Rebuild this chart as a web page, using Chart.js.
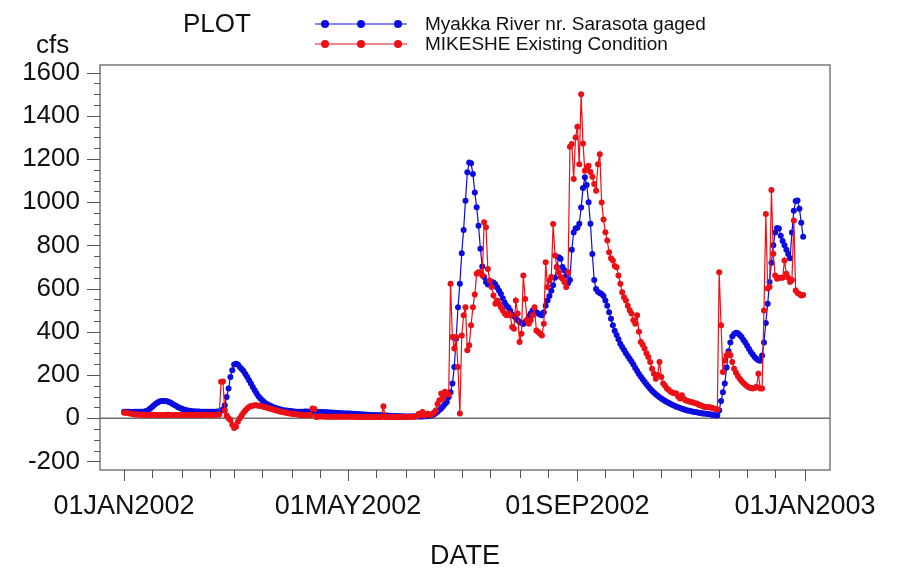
<!DOCTYPE html>
<html>
<head>
<meta charset="utf-8">
<title>PLOT</title>
<script src="https://cdn.jsdelivr.net/npm/chart.js@4.4.0/dist/chart.umd.min.js"></script>
<style>
  html, body { margin: 0; padding: 0; background: #fff; }
  #wrap { width: 907px; height: 569px; }
</style>
</head>
<body>
<div id="wrap"><canvas id="plot" width="907" height="569"></canvas></div>
<script>
const FONT = "'Liberation Sans', Arial, sans-serif";
const BLUE = 'rgb(12,12,225)';
const RED = 'rgb(235,16,22)';

// daily flow in cfs, one value per day from 01JAN2002 (day 0) to 31DEC2002 (day 364)
const gaged = [
  30,30,30,30,29,29,30,30,30,30,   // d0
  30,31,33,38,45,52,60,67,73,77,
  79,80,80,78,75,71,66,61,56,51,   // d20
  47,43,40,38,36,34,32,32,31,31,
  31,30,30,30,30,30,30,30,30,30,   // d40
  31,31,33,40,60,98,137,191,222,249,
  252,248,237,228,218,205,191,175,160,144,   // d60
  129,115,102,92,83,75,68,63,59,55,
  51,48,45,42,40,38,36,35,34,33,   // d80
  32,31,30,30,30,30,30,31,31,30,
  30,30,30,29,29,29,28,28,27,27,   // d100
  26,26,25,25,24,24,23,23,22,22,
  21,21,20,20,19,19,18,18,17,17,   // d120
  16,16,15,15,15,14,14,13,13,12,
  12,12,11,11,10,10,10,9,9,9,      // d140
  8,8,8,8,8,8,8,8,8,8,
  8,9,9,10,11,13,17,23,30,38,      // d160
  45,55,65,75,98,120,160,237,368,514,
  622,764,871,1007,1138,1184,1180,1130,1045,976,   // d180
  891,784,702,653,630,619,622,630,628,620,
  605,590,575,555,535,520,512,497,480,472,   // d200
  462,453,445,440,436,445,455,472,485,498,
  494,490,485,480,476,490,520,545,565,590,   // d220
  615,650,700,745,738,700,685,660,625,640,
  780,860,878,882,900,975,1065,1115,1080,1000,   // d240
  900,760,640,598,585,580,575,565,545,520,
  490,460,430,405,385,365,345,330,315,300,   // d260
  288,275,262,248,232,218,205,192,180,168,
  157,146,136,127,119,111,104,97,91,85,   // d280
  80,75,70,65,61,57,53,50,47,44,
  41,38,36,34,32,30,28,27,25,24,   // d300
  22,21,20,19,18,16,15,13,12,35,
  80,120,160,235,310,350,378,390,395,393,   // d320
  385,376,362,350,335,320,306,295,283,275,
  268,266,290,350,440,530,630,720,800,860,   // d340
  880,878,845,820,800,780,760,740,860,960,
  1005,1008,970,905,840   // d360
];

const mikeshe = [
  25,25,24,22,20,18,17,17,16,16,   // d0
  16,16,15,15,15,16,16,15,15,15,
  15,15,15,16,16,15,15,15,15,15,   // d20
  15,15,15,15,16,16,15,15,15,15,
  15,15,15,16,16,16,15,15,15,16,   // d40
  16,16,168,170,35,12,0,-9,-30,-46,
  -40,-17,0,12,25,35,45,52,56,58,   // d60
  60,60,58,56,55,52,50,47,45,42,
  40,37,35,32,30,28,26,25,23,22,   // d80
  20,19,18,17,16,15,15,14,14,14,
  15,45,42,5,8,8,8,8,7,7,   // d100
  7,7,7,7,6,6,6,6,6,6,
  6,6,6,6,6,5,5,5,5,5,   // d120
  5,5,5,5,5,5,5,5,5,55,
  5,5,5,5,5,5,5,5,5,5,   // d140
  5,5,5,6,6,7,8,10,20,15,
  28,12,18,20,15,18,25,35,66,83,   // d160
  114,90,122,110,110,622,376,322,376,237,
  22,383,476,514,314,337,430,514,573,668,   // d180
  676,676,660,907,884,691,637,607,568,530,
  545,530,514,499,484,476,484,476,422,414,   // d200
  545,484,353,391,660,552,453,437,453,476,
  514,406,399,391,383,437,722,607,637,653,   // d220
  899,753,699,676,653,645,630,607,676,1256,
  1269,1107,1299,1349,1176,1500,1272,1145,1161,1168,   // d240
  1140,1118,1084,1053,1176,1222,999,920,861,822,
  768,740,730,705,699,660,622,583,560,545,   // d260
  520,500,484,453,437,476,400,353,340,322,
  300,283,260,229,206,183,200,260,190,160,   // d280
  150,137,130,122,118,115,114,100,91,106,
  90,83,80,77,75,72,69,68,62,60,   // d300
  56,52,52,50,50,48,45,42,40,676,
  430,214,268,290,299,291,260,229,210,195,   // d320
  183,172,163,155,148,142,140,137,140,145,
  206,137,137,499,945,600,607,1056,761,660,   // d340
  645,650,650,650,730,668,650,630,640,915,
  591,580,575,568,570   // d360
];

const seriesNames = ['Myakka River nr. Sarasota gaged', 'MIKESHE Existing Condition'];
// day of year on which each month of 2002 starts, plus 01JAN2003
const monthStarts = [0, 31, 59, 90, 120, 151, 181, 212, 243, 273, 304, 334, 365];
const labelDays = [0, 120, 243, 365];
const tickLabels = ['01JAN2002', '01MAY2002', '01SEP2002', '01JAN2003'];
const yMajor = [-200, 0, 200, 400, 600, 800, 1000, 1200, 1400, 1600];

// x tick marks on the 1st and 16th of each month
const tickDays = [];
monthStarts.forEach((d, i) => {
  tickDays.push(d);
  if (i < monthStarts.length - 1) tickDays.push(d + 15);
});
const yTickVals = [];
for (let v = yMajor[0]; v <= yMajor[yMajor.length - 1]; v += 50) yTickVals.push(v);

const toPoints = arr => arr.map((v, i) => ({x: i, y: v}));

const decor = {
  id: 'decor',
  beforeDatasetsDraw(chart) {
    const {ctx, chartArea: a, scales: {y}} = chart;
    const y0 = y.getPixelForValue(0);
    ctx.save();
    ctx.strokeStyle = '#6f6f6f';
    ctx.lineWidth = 1.5;
    ctx.beginPath();
    ctx.moveTo(a.left, y0);
    ctx.lineTo(a.right, y0);
    ctx.stroke();
    ctx.restore();
  },
  afterDraw(chart) {
    const {ctx, chartArea: a, scales: {x, y}} = chart;
    ctx.save();
    // frame
    ctx.strokeStyle = '#7a7a7a';
    ctx.lineWidth = 1.5;
    ctx.strokeRect(a.left, a.top, a.right - a.left, a.bottom - a.top);

    // tick marks
    ctx.lineWidth = 1;
    ctx.strokeStyle = '#555';
    ctx.beginPath();
    y.ticks.forEach(t => {
      const py = Math.round(y.getPixelForValue(t.value)) + 0.5;
      const len = yMajor.includes(t.value) ? 13 : 6;
      ctx.moveTo(a.left - len, py);
      ctx.lineTo(a.left, py);
    });
    x.ticks.forEach(t => {
      const px = Math.round(x.getPixelForValue(t.value)) + 0.5;
      const len = labelDays.includes(t.value) ? 11 : 8;
      ctx.moveTo(px, a.bottom);
      ctx.lineTo(px, a.bottom + len);
    });
    ctx.stroke();

    // titles
    ctx.fillStyle = '#111';
    ctx.textBaseline = 'alphabetic';
    ctx.textAlign = 'left';
    ctx.font = '26px ' + FONT;
    ctx.fillText('PLOT', 183, 32);
    ctx.font = '26px ' + FONT;
    ctx.fillText('cfs', 36, 53);
    ctx.textAlign = 'center';
    ctx.font = '27px ' + FONT;
    ctx.fillText('DATE', (a.left + a.right) / 2, 564);

    // legend
    const colors = [BLUE, RED];
    seriesNames.forEach((name, i) => {
      const ly = 24 + i * 20;
      ctx.strokeStyle = colors[i];
      ctx.lineWidth = 1;
      ctx.beginPath();
      ctx.moveTo(315, ly);
      ctx.lineTo(407, ly);
      ctx.stroke();
      ctx.fillStyle = colors[i];
      [325, 361, 398].forEach(mx => {
        ctx.beginPath();
        ctx.arc(mx, ly, 4, 0, Math.PI * 2);
        ctx.fill();
      });
      ctx.fillStyle = '#111';
      ctx.textAlign = 'left';
      ctx.textBaseline = 'middle';
      ctx.font = '19px ' + FONT;
      ctx.fillText(name, 425, ly + 1);
    });
    ctx.restore();
  }
};

new Chart(document.getElementById('plot').getContext('2d'), {
  type: 'line',
  data: {
    datasets: [
      {
        label: seriesNames[0],
        data: toPoints(gaged),
        borderColor: BLUE,
        backgroundColor: BLUE,
        borderWidth: 1.2,
        pointRadius: 3,
        pointBorderWidth: 0,
        pointBackgroundColor: BLUE,
        tension: 0,
        order: 1,
      },
      {
        label: seriesNames[1],
        data: toPoints(mikeshe),
        borderColor: RED,
        backgroundColor: RED,
        borderWidth: 1.2,
        pointRadius: 3,
        pointBorderWidth: 0,
        pointBackgroundColor: RED,
        tension: 0,
        order: 0,
      },
    ],
  },
  options: {
    responsive: false,
    animation: false,
    devicePixelRatio: 1,
    layout: {padding: {top: 65, right: 77, left: 0, bottom: 0}},
    plugins: {legend: {display: false}, tooltip: {enabled: false}},
    scales: {
      x: {
        type: 'linear',
        min: -12.9,
        max: 378.4,
        afterBuildTicks: scale => { scale.ticks = tickDays.map(v => ({value: v})); },
        afterFit: scale => { scale.height = 99; },
        grid: {display: false, drawTicks: false},
        border: {display: false},
        ticks: {
          autoSkip: false,
          maxRotation: 0,
          padding: 20,
          color: '#111',
          font: {family: FONT, size: 27},
          callback: v => {
            const k = labelDays.indexOf(v);
            return k >= 0 ? tickLabels[k] : '';
          },
        },
      },
      y: {
        type: 'linear',
        min: -240,
        max: 1635,
        afterBuildTicks: scale => { scale.ticks = yTickVals.map(v => ({value: v})); },
        afterFit: scale => { scale.width = 100; },
        grid: {display: false, drawTicks: false},
        border: {display: false},
        ticks: {
          autoSkip: false,
          padding: 20,
          color: '#111',
          font: {family: FONT, size: 26},
          callback: v => (yMajor.includes(v) ? String(v) : ''),
        },
      },
    },
  },
  plugins: [decor],
});
</script>
</body>
</html>
